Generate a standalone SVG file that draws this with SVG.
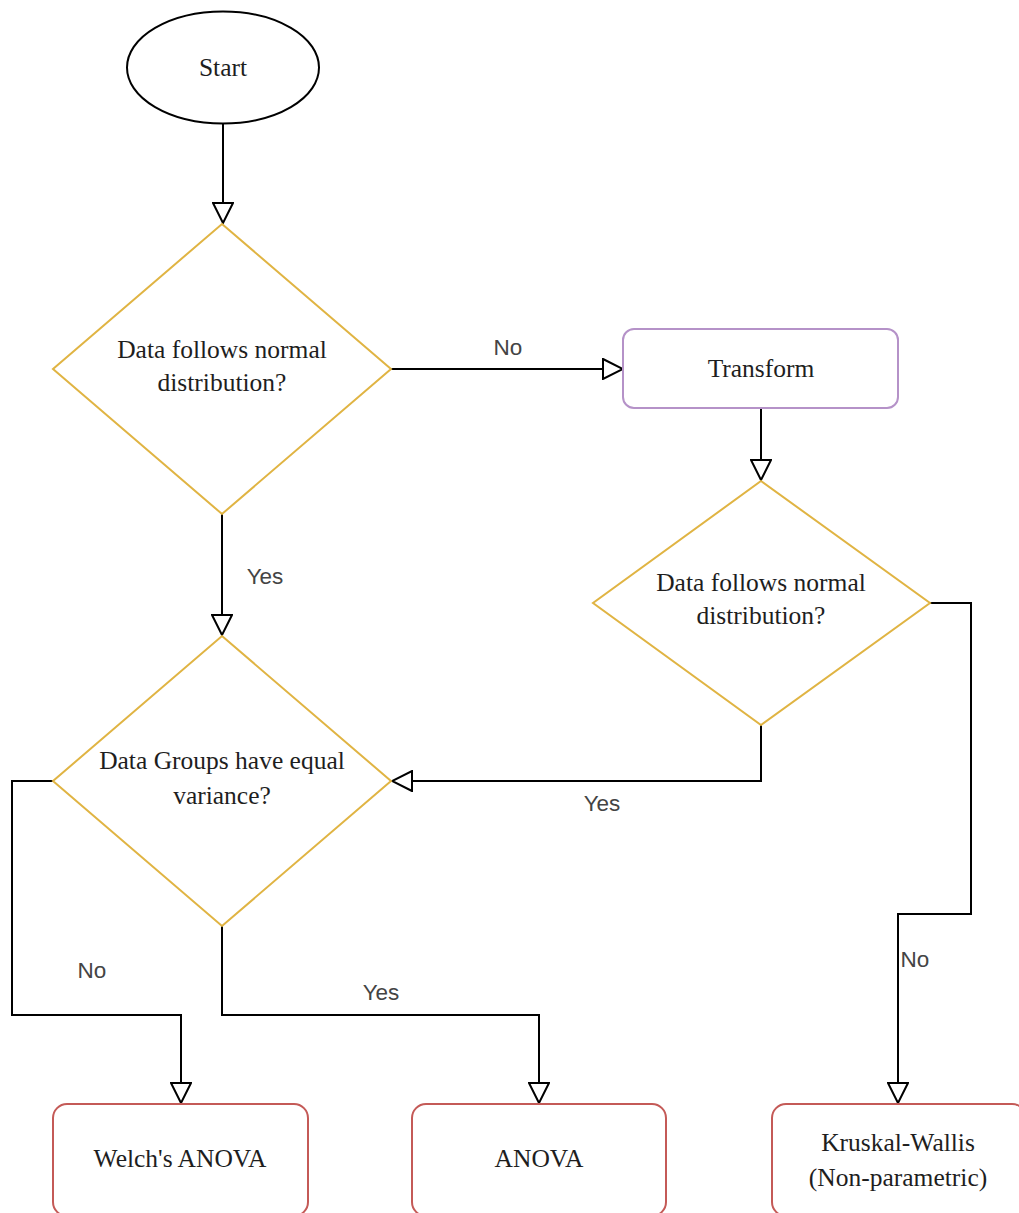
<svg xmlns="http://www.w3.org/2000/svg" width="1019" height="1213" viewBox="0 0 1019 1213">
  <style>
    .bg { fill: #ffffff; }
    .term { fill: #ffffff; stroke: #000000; stroke-width: 2; }
    .dec { fill: #ffffff; stroke: #e0b443; stroke-width: 2; }
    .proc { fill: #ffffff; stroke: #b592c8; stroke-width: 2; }
    .end { fill: #ffffff; stroke: #c45a57; stroke-width: 2; }
    .ntxt { font-family: "Liberation Serif", "Times New Roman", serif; font-size: 25.5px; fill: #1e1e1e; text-anchor: middle; }
    .edge { fill: none; stroke: #000000; stroke-width: 2; marker-end: url(#open); }
    .etxt { font-family: "Liberation Sans", Arial, sans-serif; font-size: 22.5px; fill: #444444; text-anchor: middle; }
  </style>
  <defs>
    <marker id="open" viewBox="0 0 22 22" refX="21" refY="11" markerWidth="22" markerHeight="22" markerUnits="userSpaceOnUse" orient="auto">
      <path d="M1,1 L21,11 L1,21 Z" fill="#ffffff" stroke="#000000" stroke-width="2" stroke-linejoin="miter"/>
    </marker>
  </defs>
  <rect class="bg" x="0" y="0" width="1019" height="1213"/>

  <!-- connectors -->
  <g id="connectors">
    <path class="edge" d="M223,124 L223,223"/>
    <path class="edge" d="M391,369 L623,369"/>
    <path class="edge" d="M761,408 L761,480"/>
    <path class="edge" d="M222,514 L222,635"/>
    <path class="edge" d="M761,725 L761,781 L392,781"/>
    <path class="edge" d="M930,603 L971,603 L971,914 L898,914 L898,1103"/>
    <path class="edge" d="M53,781 L12,781 L12,1015 L181,1015 L181,1103"/>
    <path class="edge" d="M222,926 L222,1015 L539,1015 L539,1103"/>
    <text class="etxt" x="508" y="355">No</text>
    <text class="etxt" x="265" y="584">Yes</text>
    <text class="etxt" x="602" y="811">Yes</text>
    <text class="etxt" x="915" y="967">No</text>
    <text class="etxt" x="92" y="978">No</text>
    <text class="etxt" x="381" y="1000">Yes</text>
  </g>

  <g id="start">
    <ellipse class="term" cx="223" cy="67.5" rx="96" ry="56"/>
    <text class="ntxt" x="223" y="76">Start</text>
  </g>

  <g id="normal1">
    <polygon class="dec" points="222,224 391,369 222,514 53,369"/>
    <text class="ntxt" x="222" y="358">Data follows normal</text>
    <text class="ntxt" x="222" y="391">distribution?</text>
  </g>

  <g id="transform">
    <rect class="proc" x="623" y="329" width="275" height="79" rx="11"/>
    <text class="ntxt" x="761" y="377">Transform</text>
  </g>

  <g id="normal2">
    <polygon class="dec" points="761,481 930,603 761,725 593,603"/>
    <text class="ntxt" x="761" y="591">Data follows normal</text>
    <text class="ntxt" x="761" y="624">distribution?</text>
  </g>

  <g id="variance">
    <polygon class="dec" points="222,636 391,781 222,926 53,781"/>
    <text class="ntxt" x="222" y="769">Data Groups have equal</text>
    <text class="ntxt" x="222" y="804">variance?</text>
  </g>

  <g id="welch">
    <rect class="end" x="53" y="1104" width="255" height="112" rx="14"/>
    <text class="ntxt" x="180" y="1167">Welch's ANOVA</text>
  </g>

  <g id="anova">
    <rect class="end" x="412" y="1104" width="254" height="112" rx="14"/>
    <text class="ntxt" x="539" y="1167">ANOVA</text>
  </g>

  <g id="kruskal">
    <rect class="end" x="772" y="1104" width="254" height="112" rx="14"/>
    <text class="ntxt" x="898" y="1151">Kruskal-Wallis</text>
    <text class="ntxt" x="898" y="1186">(Non-parametric)</text>
  </g>
</svg>
